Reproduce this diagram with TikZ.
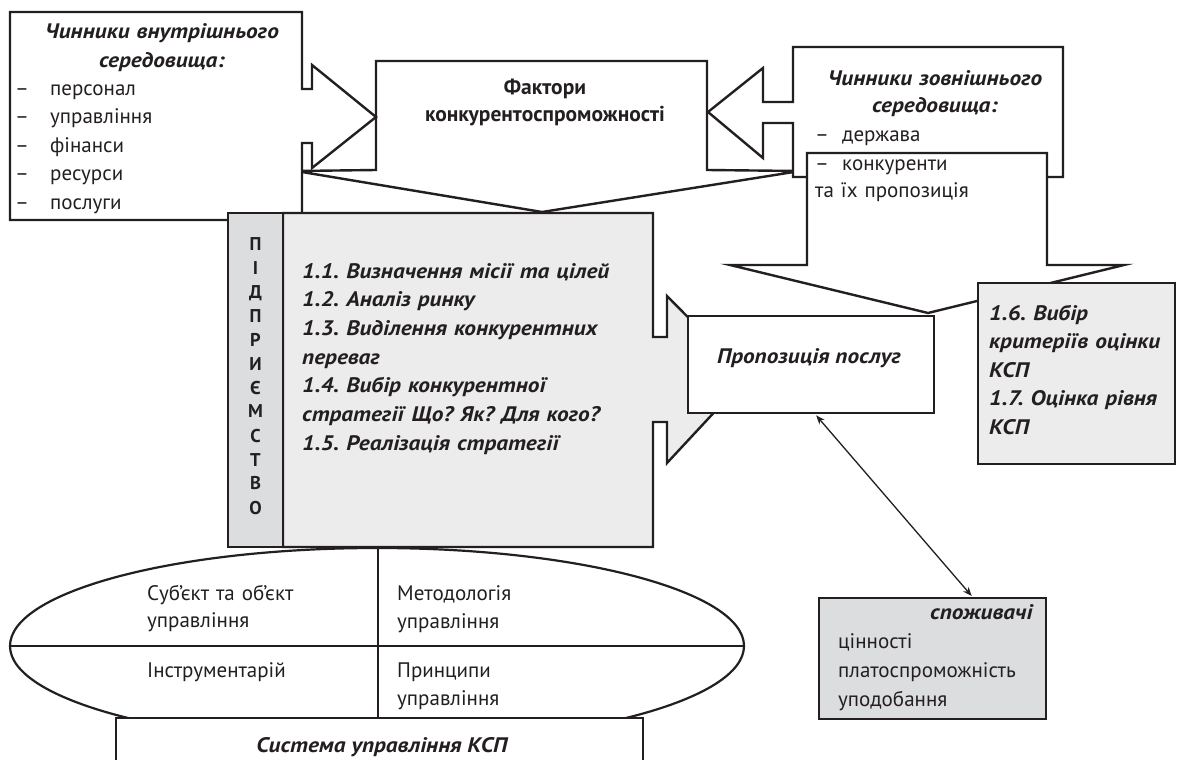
\documentclass[tikz,border=0pt]{standalone}
\usepackage{fontspec}
\setmainfont{PT Sans}[BoldItalicFeatures={FakeStretch=1.11}]
\usetikzlibrary{arrows.meta}
\definecolor{ink}{HTML}{231F20}
\definecolor{lightfill}{HTML}{EBECEB}
\definecolor{darkfill}{HTML}{DCDDDF}
\frenchspacing
\begin{document}
\begin{tikzpicture}[x=1pt,y=-1pt,
  outline/.style={draw=ink,line width=2.4pt,line join=miter,fill=white},
  greyshape/.style={outline,fill=lightfill},
  darkshape/.style={outline,fill=darkfill},
  boxnode/.style={outline,anchor=north west,inner sep=0pt,minimum width=#1},
  txt/.style={inner sep=0pt,text=ink,font=\fontsize{21}{28.5}\selectfont},
  hdr/.style={txt,font=\fontsize{21}{28.5}\selectfont\bfseries\itshape},
  dblarrow/.style={draw=ink,line width=1.3pt,{Stealth[length=9pt,width=7pt]}-{Stealth[length=9pt,width=7pt]}}
]
\useasboundingbox (0,0) rectangle (1179,760);
\fill[white] (0,0) rectangle (1179,760);

% factors box with downward arrow head
\draw[outline] (376,61) -- (707,61) -- (707,170) -- (800,171) -- (542,212)
  -- (296,171) -- (376,170) -- cycle;
\node[txt,font=\fontsize{21.5}{27}\selectfont\bfseries,text width=320pt,align=center,anchor=base]
  (factors) at (545,95) {Фактори\\конкурентоспроможності};

% internal factors callout (arrow to the right)
\draw[outline] (10,12) -- (302,12) -- (302,89) -- (312,89) -- (312,65) -- (376,117)
  -- (312,168) -- (312,143) -- (302,143) -- (302,220) -- (10,220) -- cycle;
\node[hdr,font=\fontsize{21}{28.5}\selectfont\bfseries\itshape,text width=280pt,align=center,anchor=base]
  (inttitle) at (162,38.5) {Чинники внутрішнього\\середовища:};
\node[txt,font=\fontsize{21}{28.4}\selectfont,text width=220pt,align=left,anchor=base west]
  (intlist) at (15,95.5) {\makebox[35pt][l]{–}персонал\\\makebox[35pt][l]{–}управління\\\makebox[35pt][l]{–}фінанси\\\makebox[35pt][l]{–}ресурси\\\makebox[35pt][l]{–}послуги};

% external factors callout (arrow to the left)
\draw[outline] (793,47) -- (1063,47) -- (1063,177) -- (793,177) -- (793,123) -- (763,123)
  -- (763,158) -- (708,112) -- (763,68) -- (763,102) -- (793,102) -- cycle;
\node[hdr,font=\fontsize{21}{28}\selectfont\bfseries\itshape,text width=260pt,align=center,anchor=base]
  (exttitle) at (935,85) {Чинники зовнішнього\\середовища:};
\node[txt,text width=200pt,align=left,anchor=base west]
  (extlist) at (815,142) {\makebox[27pt][l]{–}держава};

% competitors down arrow
\draw[outline] (807,153) -- (1047,153) -- (1047,265) -- (1124,265) -- (928,313)
  -- (730,265) -- (807,265) -- cycle;
\node[txt,font=\fontsize{21}{27.5}\selectfont,text width=220pt,align=left,anchor=base west]
  (competitors) at (815,170) {\makebox[27pt][l]{–}конкуренти\\та їх пропозиція};

% enterprise box with right arrow
\draw[greyshape] (283,213) -- (653,213) -- (653,337) -- (667,337) -- (667,296) -- (747,377)
  -- (667,463) -- (667,422) -- (653,422) -- (653,547) -- (283,547) -- cycle;
\draw[darkshape] (228,213) rectangle (283,547);
\node[txt,font=\fontsize{18.5}{24}\selectfont\bfseries,text width=40pt,align=center,anchor=base]
  (strip) at (255.5,250) {П\\І\\Д\\П\\Р\\И\\Є\\М\\С\\Т\\В\\О};
\node[hdr,font=\fontsize{21}{28.7}\selectfont\bfseries\itshape,text width=345pt,align=left,anchor=base west]
  (steps) at (302,278) {1.1. Визначення місії та цілей\\1.2. Аналіз ринку\\1.3. Виділення конкурентних\\переваг\\1.4. Вибір конкурентної\\стратегії Що? Як? Для кого?\\1.5. Реалізація стратегії};

% offer box
\node[boxnode=246pt,minimum height=97pt] (prop) at (687,315) {};
\node[hdr,anchor=base] (proptext) at (809,363) {Пропозиція послуг};

% evaluation box
\node[boxnode=197pt,minimum height=181pt,fill=lightfill] (evalbox) at (977,282) {};
\node[hdr,text width=180pt,align=left,anchor=base west]
  (evaltext) at (989,320) {1.6. Вибір\\критеріїв оцінки\\КСП\\1.7. Оцінка рівня\\КСП};

% management ellipse
\draw[draw=ink,line width=2.2pt,fill=white] (377,646) ellipse [x radius=367, y radius=98];
\draw[draw=ink,line width=2.2pt] (10,646) -- (744,646);
\draw[draw=ink,line width=2.2pt] (378,548) -- (378,718);
\node[txt,font=\fontsize{21}{27.5}\selectfont,text width=220pt,align=left,anchor=base west]
  (subj) at (147,600) {Суб’єкт та об’єкт\\управління};
\node[txt,font=\fontsize{21}{28}\selectfont,text width=220pt,align=left,anchor=base west]
  (method) at (397,600) {Методологія\\управління};
\node[txt,text width=220pt,align=left,anchor=base west]
  (tools) at (147,677) {Інструментарій};
\node[txt,font=\fontsize{21}{28}\selectfont,text width=220pt,align=left,anchor=base west]
  (princ) at (397,677) {Принципи\\управління};

% management system box (cut by page edge)
\fill[white] (116,718) rectangle (643,762);
\draw[draw=ink,line width=2.4pt] (116,762) -- (116,718) -- (643,718) -- (643,762);
\node[hdr,anchor=base] (system) at (382,752) {Система управління КСП};

% consumers box
\node[boxnode=227pt,minimum height=121pt,fill=darkfill] (cons) at (818,597) {};
\node[hdr,anchor=base west] (constitle) at (930,619) {споживачі};
\node[txt,font=\fontsize{21}{29}\selectfont,text width=210pt,align=left,anchor=base west]
  (conslist) at (838,648) {цінності\\платоспроможність\\уподобання};

% two-way connector
\draw[dblarrow] ([xshift=5pt,yshift=-1pt]prop.south) -- ([xshift=39pt,yshift=1pt]cons.north);
\end{tikzpicture}
\end{document}
